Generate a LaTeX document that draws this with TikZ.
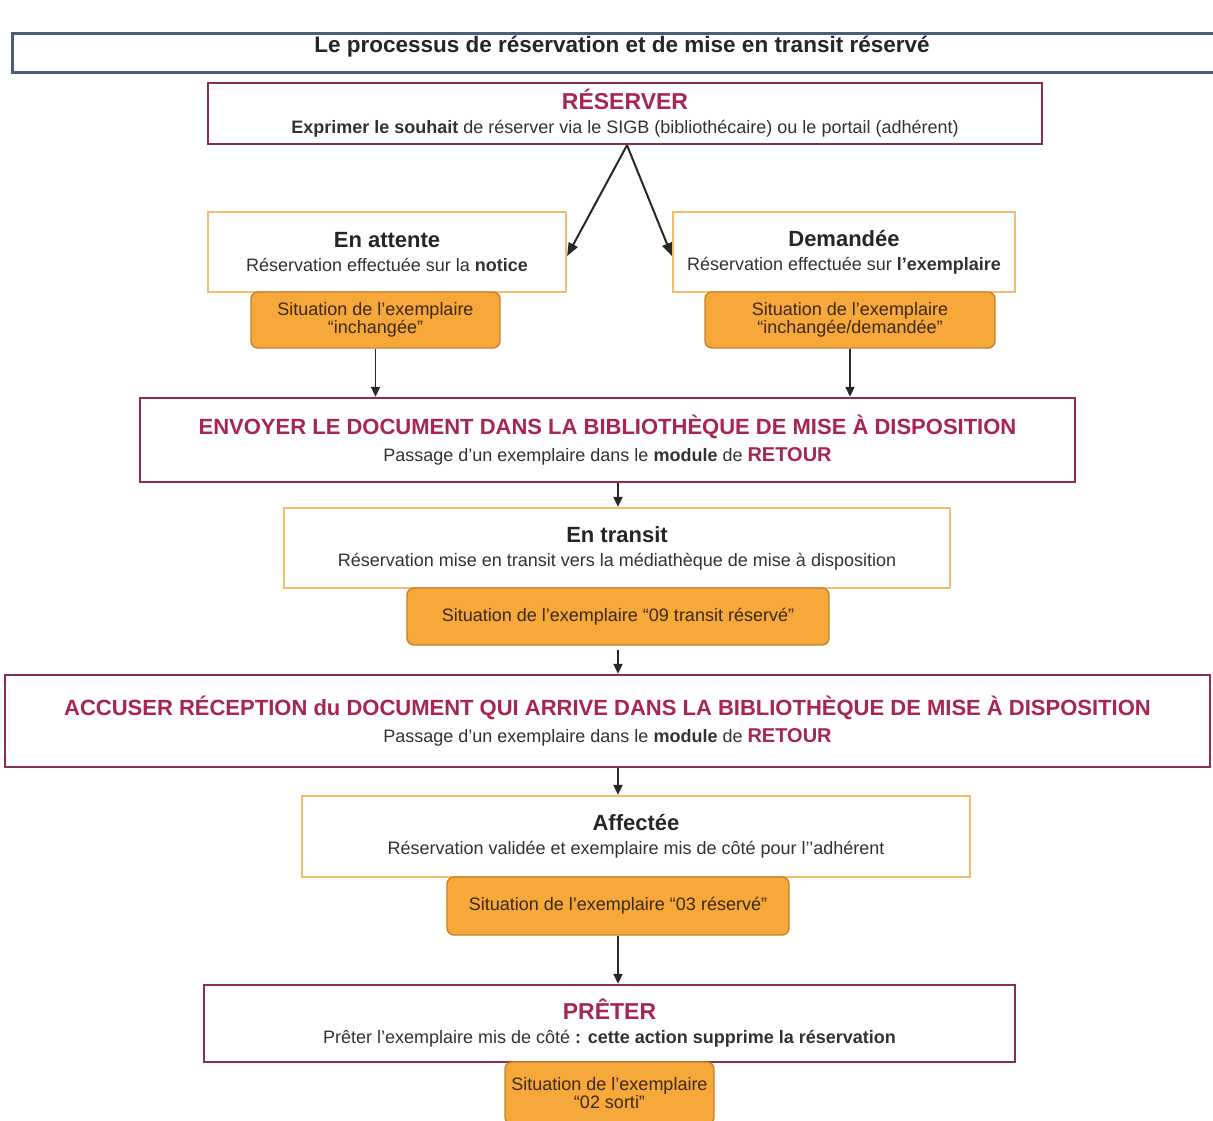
\documentclass[tikz,border=0pt]{standalone}
\usepackage{fontspec}
\setmainfont{Liberation Sans}
\usetikzlibrary{arrows.meta}
\definecolor{crimb}{RGB}{140,45,85}
\definecolor{crimt}{RGB}{168,36,82}
\definecolor{tanb}{RGB}{242,190,110}
\definecolor{orf}{RGB}{247,168,58}
\definecolor{orb}{RGB}{196,130,45}
\definecolor{ortx}{RGB}{60,40,20}
\definecolor{txt}{RGB}{50,50,50}
\definecolor{blueb}{RGB}{80,90,125}
\definecolor{arrc}{RGB}{40,40,40}
\newcommand\myhdr[2][22]{{\fontsize{#1}{24}\selectfont\bfseries\color{crimt}#2}}
\newcommand\myblk[1]{{\fontsize{22}{24}\selectfont\bfseries\color{black!85}#1}}
\newcommand\myret{{\fontsize{20}{24}\selectfont\bfseries\color{crimt}RETOUR}}
\tikzset{
  basebox/.style={fill=white, align=center, inner sep=0pt, text=txt, font=\fontsize{18}{24}\selectfont},
  pinkbox/.style={basebox, draw=crimb, line width=2.4pt},
  tanbox/.style={basebox, draw=tanb, line width=2.2pt},
  orangebox/.style={draw=orb, line width=1.4pt, fill=orf, rounded corners=7pt, align=center, inner sep=0pt, text=ortx, font=\fontsize{18}{18}\selectfont},
  arr/.style={draw=arrc, line width=1.9pt, -{Triangle[length=10pt,width=9pt]}},
  darr/.style={draw=arrc, line width=2pt, -{Triangle[length=13pt,width=10pt]}},
}
\begin{document}
\begin{tikzpicture}[x=1pt,y=-1pt]
\useasboundingbox (0,0) rectangle (1213,1120);
\clip (0,0) rectangle (1213,1120);
\fill[white] (0,0) rectangle (1213,1120);
\coordinate (spine) at (618,0);

\node[draw=blueb, line width=3pt, fill=white, inner xsep=0pt, inner ysep=0pt,
  text height=19.5pt, text depth=19.5pt, minimum width=1220pt,
  font=\fontsize{22.5}{24}\selectfont\bfseries, text=black!85] (title) at (622,52.5)
  {Le processus de réservation et de mise en transit réservé};

\node[pinkbox, minimum width=834pt, minimum height=61pt] (reserver) at (625,113.5)
  {\myhdr[23]{RÉSERVER}\\\textbf{Exprimer le souhait} de réserver via le SIGB (bibliothécaire) ou le portail (adhérent)};

\node[tanbox, minimum width=358pt, minimum height=80pt] (attente) at (387,252)
  {\myblk{En attente}\\Réservation effectuée sur la \textbf{notice}};
\node[orangebox, minimum width=249pt, minimum height=56pt] (or1) at (375.5,320)
  {Situation de l'exemplaire\\“inchangée”};

\node[tanbox, minimum width=342pt, minimum height=80pt] (demandee) at (844,252)
  {\myblk{Demandée}\\Réservation effectuée sur \textbf{l'exemplaire}};
\node[orangebox, minimum width=290pt, minimum height=56pt] (or2) at (850,320)
  {Situation de l'exemplaire\\“inchangée/demandée”};

\node[pinkbox, minimum width=935pt, minimum height=84pt] (envoyer) at (607.5,440)
  {\myhdr{ENVOYER LE DOCUMENT DANS LA BIBLIOTHÈQUE DE MISE À DISPOSITION}\\[3pt]Passage d'un exemplaire dans le \textbf{module} de \myret};

\node[tanbox, minimum width=666pt, minimum height=80pt] (transit) at (617,548)
  {\myblk{En transit}\\Réservation mise en transit vers la médiathèque de mise à disposition};
\node[orangebox, minimum width=422pt, minimum height=57pt] (or3) at (618,616.5)
  {Situation de l'exemplaire “09 transit réservé”};

\node[pinkbox, minimum width=1205pt, minimum height=92pt] (accuser) at (607.5,721)
  {\myhdr{ACCUSER RÉCEPTION du DOCUMENT QUI ARRIVE DANS LA BIBLIOTHÈQUE DE MISE À DISPOSITION}\\[3pt]Passage d'un exemplaire dans le \textbf{module} de \myret};

\node[tanbox, minimum width=668pt, minimum height=81pt] (affectee) at (636,836.5)
  {\myblk{Affectée}\\Réservation validée et exemplaire mis de côté pour l’’adhérent};
\node[orangebox, minimum width=342pt, minimum height=58pt] (or4) at (618,906)
  {Situation de l'exemplaire “03 réservé”};

\node[pinkbox, minimum width=811pt, minimum height=77pt] (preter) at (609.5,1023.5)
  {\myhdr[23]{PRÊTER}\\Prêter l'exemplaire mis de côté \textbf{: cette action supprime la réservation}};
\node[orangebox, minimum width=209pt, minimum height=62pt] (or5) at (609.5,1093)
  {Situation de l'exemplaire\\“02 sorti”};

\draw[darr] ([xshift=2pt]reserver.south) -- ([yshift=-4pt]attente.east);
\draw[darr] ([xshift=2pt]reserver.south) -- ([yshift=-4pt]demandee.west);
\draw[arr] (or1.south) -- (or1.south |- envoyer.north);
\draw[arr] (or2.south) -- (or2.south |- envoyer.north);
\draw[arr] (spine |- envoyer.south) -- (spine |- transit.north);
\draw[arr] ([yshift=-4pt]or3.south) -- (spine |- accuser.north);
\draw[arr] (spine |- accuser.south) -- (spine |- affectee.north);
\draw[arr] (or4.south) -- (spine |- preter.north);
\end{tikzpicture}
\end{document}
